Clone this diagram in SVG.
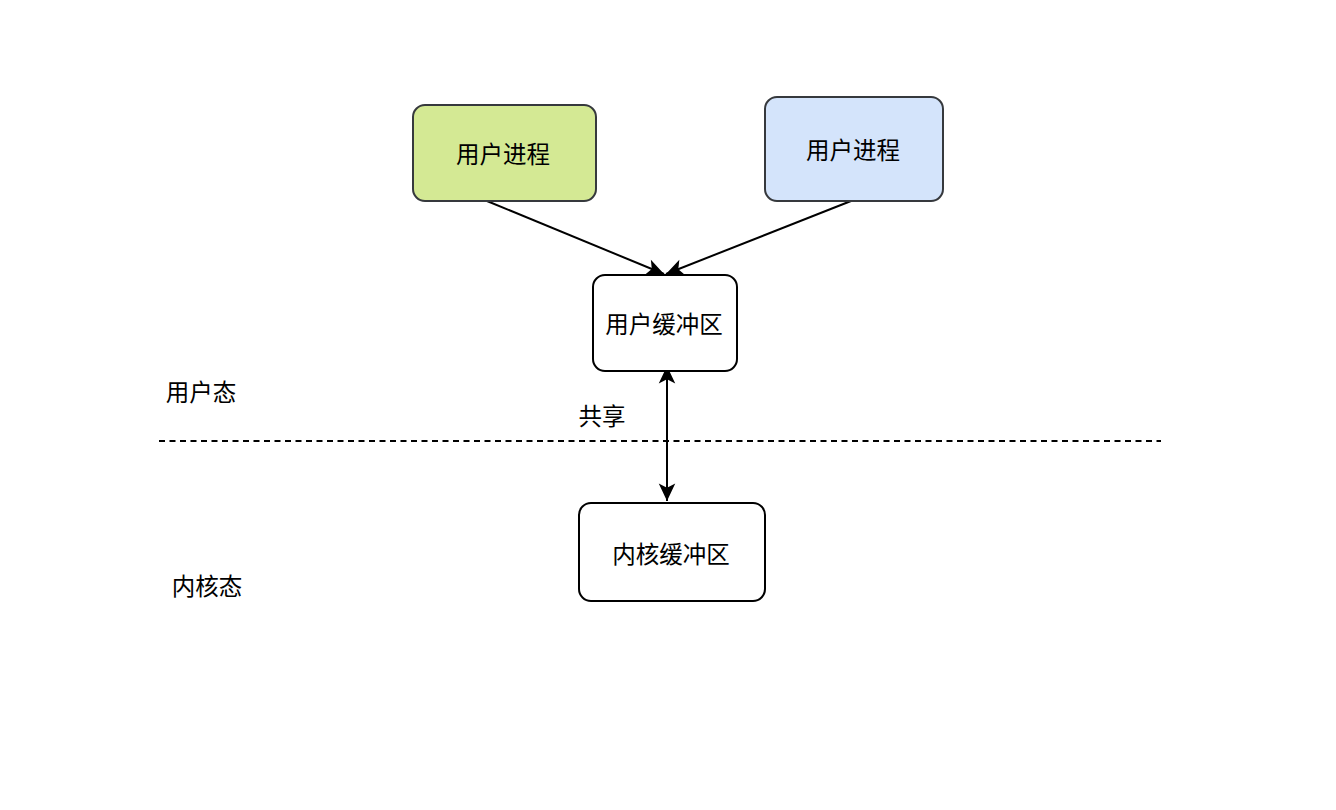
<svg xmlns="http://www.w3.org/2000/svg" width="1336" height="810" viewBox="0 0 1336 810">
<style>
.box{stroke-width:2}
.t{font-family:"Liberation Sans","Noto Sans CJK SC",sans-serif;font-size:23.5px;fill:#000;text-anchor:middle;dominant-baseline:central}
.ln{stroke:#000;stroke-width:2;fill:none}
</style>
<defs>
<marker id="ah" markerUnits="userSpaceOnUse" markerWidth="22" markerHeight="22" viewBox="-18 -9 20 18" refX="0" refY="0" orient="auto-start-reverse">
<path d="M0,0 L-16,-7.5 L-12,0 L-16,7.5 Z" fill="#000"/>
</marker>
</defs>
<rect width="1336" height="810" fill="#fff"/>
<g id="connectors">
<line class="ln" x1="159" y1="441" x2="1161" y2="441" stroke-dasharray="6 4.5"/>
<line class="ln" x1="487" y1="201" x2="664" y2="274" marker-end="url(#ah)"/>
<line class="ln" x1="851" y1="201" x2="666" y2="274" marker-end="url(#ah)"/>
<line class="ln" x1="667" y1="366" x2="667" y2="501" marker-start="url(#ah)" marker-end="url(#ah)"/>
</g>
<g id="proc1">
<rect class="box" x="413" y="105" width="183" height="96" rx="12" fill="#d4e994" stroke="#36393d"/>
<text class="t" x="503" y="155">用户进程</text>
</g>
<g id="proc2">
<rect class="box" x="765" y="97" width="178" height="104" rx="12" fill="#d4e4fb" stroke="#36393d"/>
<text class="t" x="853" y="151">用户进程</text>
</g>
<g id="userbuf">
<rect class="box" x="593" y="275" width="144" height="96" rx="12" fill="#fff" stroke="#000"/>
<text class="t" x="664" y="325">用户缓冲区</text>
</g>
<g id="kernbuf">
<rect class="box" x="579" y="503" width="186" height="98" rx="12" fill="#fff" stroke="#000"/>
<text class="t" x="671" y="555">内核缓冲区</text>
</g>
<g id="labels">
<text class="t" x="201" y="393">用户态</text>
<text class="t" x="207" y="587">内核态</text>
<text class="t" x="602" y="417">共享</text>
</g>
</svg>
